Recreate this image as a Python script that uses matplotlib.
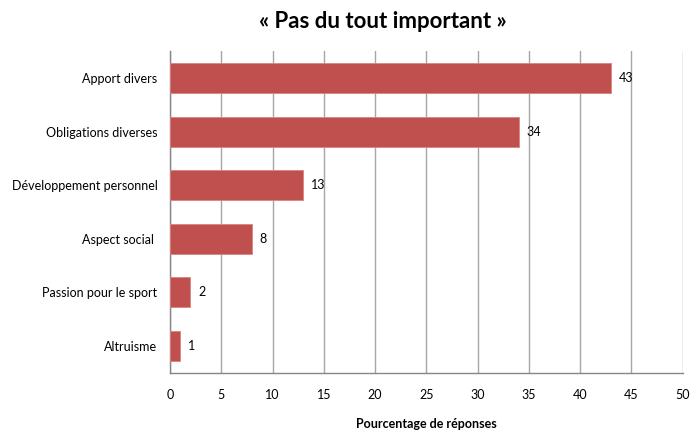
import matplotlib.pyplot as plt

categories = ["Apport divers", "Obligations diverses", "Développement personnel",
              "Aspect social ", "Passion pour le sport", "Altruisme"]
values = [43, 34, 13, 8, 2, 1]
xticks = [0, 5, 10, 15, 20, 25, 30, 35, 40, 45, 50]

plt.rcParams["font.family"] = ["Lato", "DejaVu Sans"]

fig = plt.figure(figsize=(6.91, 4.30), dpi=100)
ax = fig.add_axes([0.246, 0.133, 0.742, 0.748])

pos = list(range(len(categories)))[::-1]
ax.barh(pos, values, height=0.56, color="#C0504D", edgecolor="#D88583", linewidth=0.6, zorder=3)
for p, v in zip(pos, values):
    ax.text(v + 0.75, p, str(v), va="center", ha="left", fontsize=9, color="black", zorder=4)

ax.set_xlim(0, 50)
ax.set_ylim(-0.5, 5.5)
ax.set_xticks(xticks)
ax.set_yticks(pos)
ax.set_yticklabels(categories, fontsize=9)
ax.tick_params(axis="x", labelsize=9, length=0, pad=12)
ax.tick_params(axis="y", length=0, pad=9)
ax.grid(axis="x", color="#A6A6A6", linewidth=1, zorder=0)

for s in ["top", "right"]:
    ax.spines[s].set_visible(False)
for s in ["left", "bottom"]:
    ax.spines[s].set_color("#868686")
    ax.spines[s].set_linewidth(1)

ax.set_xlabel("Pourcentage de réponses", fontsize=9, fontweight="bold", labelpad=12)
fig.suptitle("« Pas du tout important »", fontsize=16, fontweight="bold", x=0.554, y=0.975)

fig.savefig("out.png", dpi=100)
